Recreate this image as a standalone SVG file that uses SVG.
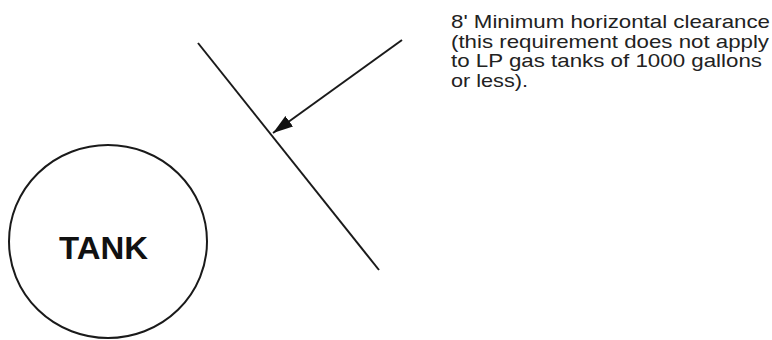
<svg xmlns="http://www.w3.org/2000/svg" width="772" height="340" viewBox="0 0 772 340">
<style>
.ln{stroke:#1a1a1a;stroke-width:2;fill:none}
.note{font-family:"Liberation Sans",Arial,sans-serif;font-size:19px;fill:#222}
.tank{font-family:"Liberation Sans",Arial,sans-serif;font-size:31px;font-weight:bold;fill:#111}
</style>
<defs>
<marker id="ah" markerUnits="userSpaceOnUse" markerWidth="22" markerHeight="14" refX="20" refY="6.5" orient="auto">
<path d="M0,0 L20,6.5 L0,13 Z" fill="#111"/>
</marker>
</defs>
<rect width="772" height="340" fill="#fff"/>
<g id="tank">
<ellipse class="ln" cx="108" cy="241.5" rx="99" ry="96.5"/>
<text class="tank" x="59" y="259" textLength="89" lengthAdjust="spacingAndGlyphs">TANK</text>
</g>
<g id="clearance-line">
<line class="ln" x1="198" y1="43" x2="379" y2="270"/>
</g>
<g id="note">
<text class="note" x="451" y="28" textLength="319" lengthAdjust="spacingAndGlyphs">8' Minimum horizontal clearance</text>
<text class="note" x="451" y="47.5" textLength="318" lengthAdjust="spacingAndGlyphs">(this requirement does not apply</text>
<text class="note" x="451" y="67" textLength="311" lengthAdjust="spacingAndGlyphs">to LP gas tanks of 1000 gallons</text>
<text class="note" x="451" y="86.5" textLength="77" lengthAdjust="spacingAndGlyphs">or less).</text>
</g>
<g id="connectors">
<line class="ln" x1="402" y1="40" x2="273" y2="133" marker-end="url(#ah)"/>
</g>
</svg>
